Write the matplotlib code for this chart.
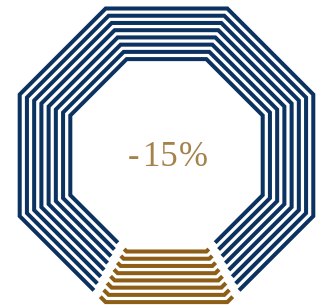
import numpy as np
import matplotlib.pyplot as plt

# share of the ring: gold part and the rest
values = [15, 85]
colors = ['#8c5e16', '#0b3260']
label_parts = ['-', '15', '%']   # "-15%", spaced out like the original
n_rings = 8

cx, cy = 166.5, 155.3          # centre in pixels
a_out, a_in = 146.8, 96.2      # apothem of outer / inner ring
gap = 9.0                      # gap between the two parts (px)
t = np.tan(np.pi / 8)


def octagon(a):
    # vertices starting at bottom centre, going round to the left
    pts = [(0, a), (-a * t, a), (-a, a * t), (-a, -a * t), (-a * t, -a),
           (a * t, -a), (a, -a * t), (a, a * t), (a * t, a), (0, a)]
    return np.array(pts) + [cx, cy]


def arc(a, s0, s1):
    pts = octagon(a)
    pts = np.vstack([pts, pts[1:]])  # two laps
    seg = np.hypot(*np.diff(pts, axis=0).T)
    cum = np.concatenate([[0], np.cumsum(seg)])
    out = [np.array([np.interp(s0, cum, pts[:, 0]), np.interp(s0, cum, pts[:, 1])])]
    for i, c in enumerate(cum):
        if s0 < c < s1:
            out.append(pts[i])
    out.append(np.array([np.interp(s1, cum, pts[:, 0]), np.interp(s1, cum, pts[:, 1])]))
    return np.array(out)


fig = plt.figure(figsize=(3.18, 3.06), dpi=100)
ax = fig.add_axes([0, 0, 1, 1])
ax.set_xlim(0, 318)
ax.set_ylim(306, 0)
ax.axis('off')

frac = values[0] / sum(values)
for a in np.linspace(a_out, a_in, n_rings):
    P = 16 * a * t
    h = frac * P / 2
    gold = arc(a, P - h + gap / 2, P + h - gap / 2)
    navy = arc(a, h + gap / 2, P - h - gap / 2)
    for pts, col in [(gold, colors[0]), (navy, colors[1])]:
        ax.plot(pts[:, 0], pts[:, 1], color=col, lw=2.9,
                solid_capstyle='butt', solid_joinstyle='miter')

for part, x in zip(label_parts, [133.5, 160.5, 193]):
    ax.text(x, cy + 2.5, part, ha='center', va='center', fontsize=25,
            family='Liberation Serif', color='#a5824c')

fig.savefig('out.png', dpi=100)
